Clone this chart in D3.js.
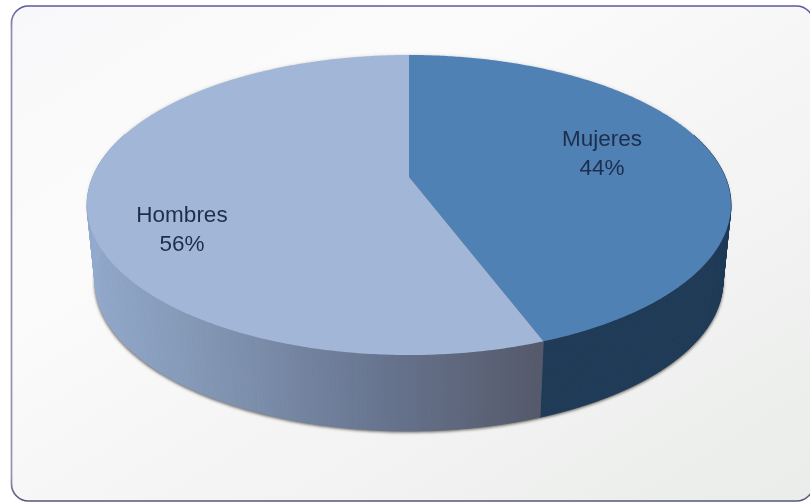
<!DOCTYPE html>
<html lang="es">
<head>
<meta charset="UTF-8">
<script src="https://d3js.org/d3.v7.min.js"></script>
<style>
    html, body { margin: 0; padding: 0; background: #fff; overflow: hidden; }
    svg { display: block; }
    text { font-family: "Liberation Sans", Arial, sans-serif; fill: #1f2e4c; }
</style>
</head>
<body>
<div id="here"></div>
<script>
    const categories = ["Mujeres", "Hombres"];
    const shares = [44.3, 55.7];                 // labels round these to 44 / 56

    const topColors = ["#4f81b5", "#a2b7d8"];
    const width = 810, height = 502;

    // disc seen in perspective, the hub sits above the centre of the ellipse
    const cx = 409, hubY = 177, rx = 316.3, ry = 144.8, persp = 0.1867;
    const depth = 76, bottomShrink = 0.975;

    function project(a, k, dy) {
        const u = Math.sin(a), v = -Math.cos(a), w = 1 - persp * v;
        return [cx + k * rx * u / w, hubY + dy + ry * v / w];
    }

    const svg = d3.select("#here").append("svg")
        .attr("width", width)
        .attr("height", height);

    const defs = svg.append("defs");

    const bg = defs.append("linearGradient").attr("id", "bg")
        .attr("x1", "0").attr("y1", "0").attr("x2", "1").attr("y2", "1");
    bg.append("stop").attr("offset", "0").attr("stop-color", "#f8f8fa");
    bg.append("stop").attr("offset", "0.3").attr("stop-color", "#fbfbfb");
    bg.append("stop").attr("offset", "1").attr("stop-color", "#eaecea");

    // border is strong along the top, greyer down the side
    const edge = defs.append("linearGradient").attr("id", "edge")
        .attr("x1", "0").attr("y1", "0").attr("x2", "0").attr("y2", "1");
    edge.append("stop").attr("offset", "0").attr("stop-color", "#5c58a4");
    edge.append("stop").attr("offset", "0.05").attr("stop-color", "#8f8fb0");
    edge.append("stop").attr("offset", "0.95").attr("stop-color", "#9393ad");
    edge.append("stop").attr("offset", "1").attr("stop-color", "#55557a");

    defs.append("filter").attr("id", "soft")
        .attr("x", "-10%").attr("y", "-10%").attr("width", "120%").attr("height", "120%")
        .append("feGaussianBlur").attr("stdDeviation", 1.6);
    defs.append("filter").attr("id", "tiny")
        .append("feGaussianBlur").attr("stdDeviation", 0.3);

    svg.append("rect")
        .attr("x", 11.5).attr("y", 6)
        .attr("width", 802).attr("height", 495)
        .attr("rx", 17).attr("ry", 17)
        .attr("fill", "url(#bg)")
        .attr("stroke", "url(#edge)")
        .attr("stroke-width", 1.7);

    const pie = d3.pie().sort(null).value(d => d).startAngle(0).endAngle(2 * Math.PI);
    const slices = pie(shares);

    const line = d3.line();

    // soft shadow hugging the outer edge of the disc
    const ring = d3.range(0, 2 * Math.PI, 0.02);
    const shadow = svg.append("g").attr("filter", "url(#soft)").attr("fill", "#6f6a66");
    shadow.append("path")
        .attr("d", line(ring.map(a => project(a, bottomShrink + 0.002, depth + 1.5))) + "Z");
    shadow.append("path")
        .attr("d", line(ring.map(a => project(a, 1, -0.4))) + "Z")
        .attr("opacity", 0.2);

    // side wall: thin strips, shaded by where they fall across the chart
    const wallColor = d3.scaleLinear()
        .domain([90, 230, 380, 540])
        .range(["#93aacd", "#7f93b0", "#687590", "#555a6c"])
        .clamp(true);

    const wall = svg.append("g");
    slices.forEach((s, i) => {
        const step = 0.012;
        const angles = d3.range(s.startAngle, s.endAngle, step);
        angles.forEach(a => {
            const b = Math.min(a + step, s.endAngle);
            if (Math.cos(a) > 0.3 && Math.cos(b) > 0.3) return;   // hidden behind the top
            const t0 = project(a, 1, 0), t1 = project(b, 1, 0);
            const b0 = project(a, bottomShrink, depth), b1 = project(b, bottomShrink, depth);
            const c = i === 0 ? "#1f3b58" : wallColor(t0[0]);
            wall.append("path")
                .attr("d", line([t0, t1, b1, b0]) + "Z")
                .attr("fill", c)
                .attr("stroke", c)
                .attr("stroke-width", 0.7);
        });
    });

    // top face
    const hub = [cx, hubY];
    svg.append("g").selectAll("path")
        .data(slices)
        .join("path")
        .attr("d", s => {
            const angles = d3.range(s.startAngle, s.endAngle, 0.01).concat([s.endAngle]);
            return line([hub].concat(angles.map(a => project(a, 1, 0)))) + "Z";
        })
        .attr("fill", (s, i) => topColors[i]);

    // labels
    const labelPos = [[602, 138], [182, 214]];
    const pct = d3.format(".0f");
    const labels = svg.append("g").attr("filter", "url(#tiny)");
    slices.forEach((s, i) => {
        const g = labels.append("g")
            .attr("transform", `translate(${labelPos[i][0]},${labelPos[i][1]})`)
            .attr("text-anchor", "middle")
            .attr("font-size", 22.5);
        g.append("text").attr("y", 8).text(categories[i]);
        g.append("text").attr("y", 37).text(pct(s.value) + "%");
    });
</script>
</body>
</html>
